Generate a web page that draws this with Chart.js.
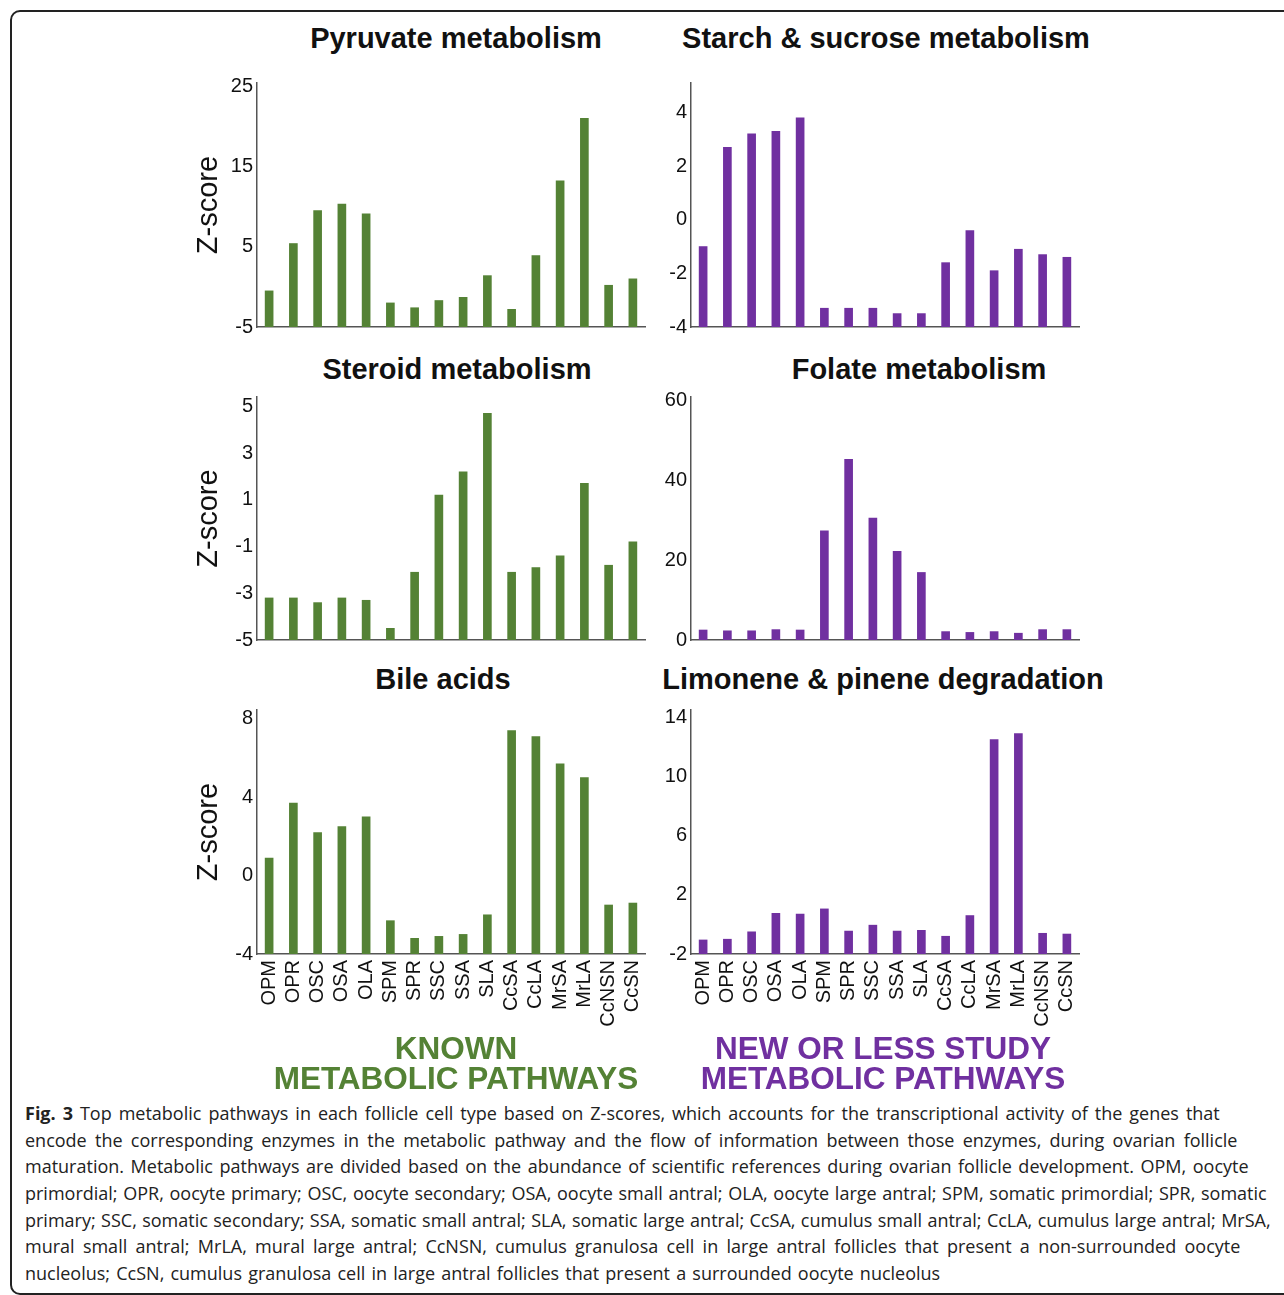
<!DOCTYPE html>
<html>
<head>
<meta charset="utf-8">
<script src="https://cdn.jsdelivr.net/npm/chart.js@4.4.0/dist/chart.umd.min.js"></script>
<style>
  body { margin: 0; background: #fff; width: 1284px; height: 1295px; overflow: hidden; position: relative; }
  .frame { position: absolute; left: 10px; top: 10px; width: 1300px; height: 1281px; border: 2px solid #222; border-radius: 10px; }
  .ptitle { position: absolute; width: 600px; text-align: center; font: bold 29px "Liberation Sans", Arial, sans-serif; line-height: 29px; color: #111; white-space: nowrap; }
  canvas { position: absolute; }
  .group { position: absolute; width: 500px; text-align: center; font: bold 31.5px "Liberation Sans", Arial, sans-serif; line-height: 30px; white-space: nowrap; }
  .caption { position: absolute; left: 25px; top: 1100px; font: 18px "Open Sans", sans-serif; line-height: 26.67px; color: #222; white-space: nowrap; }
  .caption div { height: 26.67px; }
</style>
</head>
<body>
<div class="frame"></div>

<div class="ptitle" style="left:156px; top:24px;">Pyruvate metabolism</div>
<div class="ptitle" style="left:586px; top:24px;">Starch &amp; sucrose metabolism</div>
<div class="ptitle" style="left:157px; top:355px;">Steroid metabolism</div>
<div class="ptitle" style="left:619px; top:355px;">Folate metabolism</div>
<div class="ptitle" style="left:143px; top:665px;">Bile acids</div>
<div class="ptitle" style="left:583px; top:665px;">Limonene &amp; pinene degradation</div>

<canvas id="c1" width="460" height="260" style="left:190px; top:75px;"></canvas>
<canvas id="c2" width="465" height="260" style="left:620px; top:75px;"></canvas>
<canvas id="c3" width="460" height="259" style="left:190px; top:389px;"></canvas>
<canvas id="c4" width="465" height="259" style="left:620px; top:389px;"></canvas>
<canvas id="c5" width="460" height="344" style="left:190px; top:700px;"></canvas>
<canvas id="c6" width="465" height="344" style="left:620px; top:700px;"></canvas>

<div class="group" style="left:206px; top:1033px; color:#548235;">KNOWN<br>METABOLIC PATHWAYS</div>
<div class="group" style="left:633px; top:1033px; color:#7030A0;">NEW OR LESS STUDY<br>METABOLIC PATHWAYS</div>

<div class="caption">
<div style="word-spacing:2.3px"><b>Fig. 3</b> Top metabolic pathways in each follicle cell type based on Z-scores, which accounts for the transcriptional activity of the genes that</div>
<div style="word-spacing:3.6px">encode the corresponding enzymes in the metabolic pathway and the flow of information between those enzymes, during ovarian follicle</div>
<div style="word-spacing:1.9px">maturation. Metabolic pathways are divided based on the abundance of scientific references during ovarian follicle development. OPM, oocyte</div>
<div style="word-spacing:1px">primordial; OPR, oocyte primary; OSC, oocyte secondary; OSA, oocyte small antral; OLA, oocyte large antral; SPM, somatic primordial; SPR, somatic</div>
<div style="word-spacing:0.7px">primary; SSC, somatic secondary; SSA, somatic small antral; SLA, somatic large antral; CcSA, cumulus small antral; CcLA, cumulus large antral; MrSA,</div>
<div style="word-spacing:3.6px">mural small antral; MrLA, mural large antral; CcNSN, cumulus granulosa cell in large antral follicles that present a non-surrounded oocyte</div>
<div style="word-spacing:1.5px">nucleolus; CcSN, cumulus granulosa cell in large antral follicles that present a surrounded oocyte nucleolus</div>
</div>

<script>
'use strict';

// cell types on the x axis
var cellTypes = ['OPM', 'OPR', 'OSC', 'OSA', 'OLA', 'SPM', 'SPR', 'SSC', 'SSA', 'SLA',
                 'CcSA', 'CcLA', 'MrSA', 'MrLA', 'CcNSN', 'CcSN'];

// Z-scores
var pyruvate = [-0.5, 5.4, 9.5, 10.3, 9.1, -2.0, -2.6, -1.7, -1.3, 1.4, -2.8, 3.9, 13.2, 21.0, 0.2, 1.0];
var starch   = [-1.0, 2.7, 3.2, 3.3, 3.8, -3.3, -3.3, -3.3, -3.5, -3.5, -1.6, -0.4, -1.9, -1.1, -1.3, -1.4];
var steroid  = [-3.2, -3.2, -3.4, -3.2, -3.3, -4.5, -2.1, 1.2, 2.2, 4.7, -2.1, -1.9, -1.4, 1.7, -1.8, -0.8];
var folate   = [2.5, 2.3, 2.3, 2.6, 2.5, 27.3, 45.2, 30.5, 22.2, 16.9, 2.1, 1.9, 2.1, 1.7, 2.6, 2.6];
var bile     = [0.9, 3.7, 2.2, 2.5, 3.0, -2.3, -3.2, -3.1, -3.0, -2.0, 7.4, 7.1, 5.7, 5.0, -1.5, -1.4];
var limonene = [-1.05, -1.0, -0.5, 0.75, 0.7, 1.05, -0.45, -0.05, -0.45, -0.4, -0.8, 0.6, 12.5, 12.9, -0.6, -0.65];

// y tick labels of each panel
var pyruvateTicks = [-5, 5, 15, 25];
var starchTicks   = [-4, -2, 0, 2, 4];
var steroidTicks  = [-5, -3, -1, 1, 3, 5];
var folateTicks   = [0, 20, 40, 60];
var bileTicks     = [-4, 0, 4, 8];
var limoneneTicks = [-2, 2, 6, 10, 14];

var green = '#548235';
var purple = '#7030A0';
var fontFamily = '"Liberation Sans", Arial, sans-serif';

// no extra room for half tick labels, the chart area is set by the fixed sizes
function noPadding(s) {
  s.paddingTop = 0;
  s.paddingBottom = 0;
  s.paddingLeft = 0;
  s.paddingRight = 0;
}

function makePanel(id, values, color, yMin, yMax, tickVals, opts) {
  var ctx = document.getElementById(id).getContext('2d');
  return new Chart(ctx, {
    type: 'bar',
    data: {
      labels: cellTypes,
      datasets: [{
        data: values,
        backgroundColor: color,
        borderWidth: 0,
        barThickness: 8,
        base: yMin
      }]
    },
    options: {
      responsive: false,
      animation: false,
      devicePixelRatio: 1,
      layout: { padding: { left: 0, right: opts.padRight, top: opts.padTop, bottom: 0 } },
      plugins: { legend: { display: false }, tooltip: { enabled: false } },
      scales: {
        x: {
          grid: { display: false, drawTicks: false },
          border: { display: true, color: '#555', width: 1.5 },
          ticks: {
            display: opts.showLabels,
            autoSkip: false,
            minRotation: 90,
            maxRotation: 90,
            padding: 6,
            color: '#111',
            font: { family: fontFamily, size: 20 }
          },
          afterFit: function (s) { s.height = opts.xHeight; noPadding(s); }
        },
        y: {
          min: yMin,
          max: yMax,
          grid: { display: false, drawTicks: false },
          border: { display: true, color: '#555', width: 1.5 },
          ticks: { padding: 4, color: '#111', font: { family: fontFamily, size: 20 } },
          afterBuildTicks: function (s) {
            s.ticks = tickVals.map(function (v) { return { value: v }; });
          },
          title: {
            display: opts.showTitle,
            text: 'Z-score',
            color: '#111',
            padding: { top: 2, bottom: 0 },
            font: { family: fontFamily, size: 29 }
          },
          afterFit: function (s) { s.width = opts.yWidth; noPadding(s); }
        }
      }
    }
  });
}

var leftTop = { yWidth: 67, padRight: 5, padTop: 8, xHeight: 8, showLabels: false, showTitle: true };
var rightTop = { yWidth: 71, padRight: 6, padTop: 8, xHeight: 8, showLabels: false, showTitle: false };
var leftBottom = { yWidth: 67, padRight: 5, padTop: 10, xHeight: 90, showLabels: true, showTitle: true };
var rightBottom = { yWidth: 71, padRight: 6, padTop: 10, xHeight: 90, showLabels: true, showTitle: false };

makePanel('c1', pyruvate, green, -5, 25.4, pyruvateTicks, leftTop);
makePanel('c2', starch, purple, -4, 5.1, starchTicks, rightTop);
makePanel('c3', steroid, green, -5, 5.4, steroidTicks, leftTop);
makePanel('c4', folate, purple, 0, 60.8, folateTicks, rightTop);
makePanel('c5', bile, green, -4, 8.45, bileTicks, leftBottom);
makePanel('c6', limonene, purple, -2, 14.5, limoneneTicks, rightBottom);
</script>
</body>
</html>
